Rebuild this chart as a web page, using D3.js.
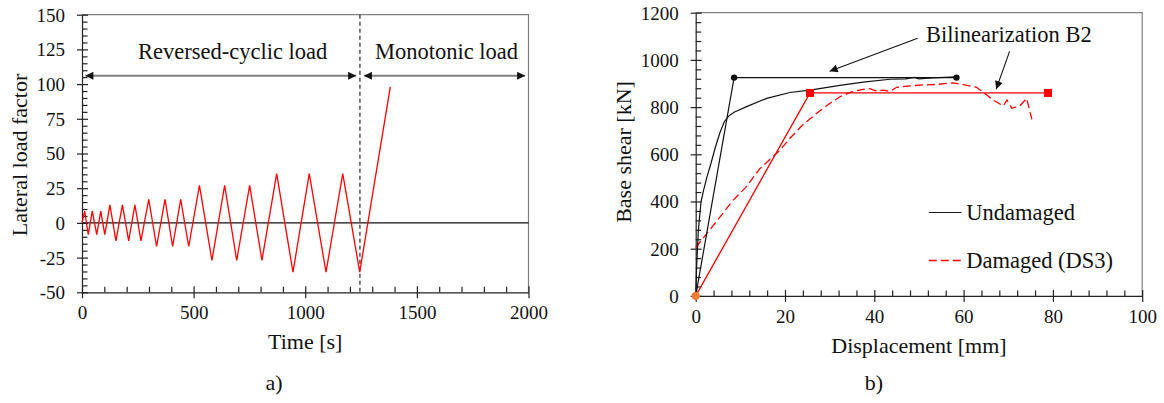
<!DOCTYPE html>
<html>
<head>
<meta charset="utf-8">
<script src="https://cdn.jsdelivr.net/npm/d3@7"></script>
<style>
  body { margin: 0; background: #fff; }
  svg { display: block; }
</style>
</head>
<body>
<div id="chart"></div>
<script>
// panel a) reversed-cyclic + monotonic load history
let cycTime = [0, 12, 28, 46, 66, 84, 102, 125, 152, 181, 209, 237, 264, 299, 334, 372, 406, 442, 478,
  526, 582, 639, 693, 751, 806, 872, 945, 1018, 1093, 1168, 1244, 1381];
let cycLoad = [0, 8.5, -8.5, 8.5, -8.5, 8.5, -8.5, 13, -13, 13, -13, 13, -13, 17, -17, 17, -17, 17, -17,
  27, -27, 27, -27, 27, -27, 35.5, -35.5, 35.5, -35.5, 35.5, -35.5, 98];
let switchTime = 1245;
let timeTicks = [0, 500, 1000, 1500, 2000];
let loadTicks = [-50, -25, 0, 25, 50, 75, 100, 125, 150];

// panel b) pushover curves
let undDisp = [0, 0.2, 0.6, 1.2, 1.8, 2.6, 3.4, 4.4, 5.4, 6.4, 7.4, 8.6, 11.4, 15.9, 21.1, 25.6, 32.3,
  37.5, 43.5, 47, 49, 50, 53, 58.4];
let undShear = [0, 120, 280, 400, 450, 510, 560, 630, 690, 738, 762, 778, 802, 837, 862, 872, 892,
  906, 918, 920, 926, 920, 924, 928];
let dmgDisp = [0, 4, 8.4, 11.2, 14.4, 18.9, 21.1, 24, 27.1, 30, 32.3, 35, 37.5, 39, 40.5, 42, 43.5,
  45, 48, 51, 54, 57.7, 60, 62.9, 65.2, 66.6, 68.9, 69.7, 70.8, 72.6, 74.1, 75.3];
let dmgShear = [205, 300, 406, 460, 540, 618, 668, 725, 774, 815, 844, 865, 875, 878, 868, 872, 866,
  884, 890, 894, 896, 903, 895, 884, 851, 830, 805, 830, 795, 805, 837, 748];
let bilUndDisp = [0, 8.6, 58.4];
let bilUndShear = [0, 925, 925];
let bilDmgDisp = [0, 25.6, 78.9];
let bilDmgShear = [0, 860, 860];
let dispTicks = [0, 20, 40, 60, 80, 100];
let shearTicks = [0, 200, 400, 600, 800, 1000, 1200];

let W = 1164, H = 403;
let FONT = "'Liberation Serif', 'Times New Roman', serif";
let RED = "#ff0000";

let svg = d3.select("#chart").append("svg")
  .attr("width", W).attr("height", H)
  .style("font-family", FONT);

svg.append("rect").attr("width", W).attr("height", H).attr("fill", "#fff");

let defs = svg.append("defs");
defs.append("marker")
  .attr("id", "headA")
  .attr("viewBox", "0 0 10 10")
  .attr("refX", 10).attr("refY", 5)
  .attr("markerWidth", 9).attr("markerHeight", 8)
  .attr("markerUnits", "userSpaceOnUse")
  .attr("orient", "auto-start-reverse")
  .append("path").attr("d", "M0,0L10,5L0,10Z").attr("fill", "#111");
defs.append("marker")
  .attr("id", "headB")
  .attr("viewBox", "0 0 10 10")
  .attr("refX", 10).attr("refY", 5)
  .attr("markerWidth", 11).attr("markerHeight", 8)
  .attr("markerUnits", "userSpaceOnUse")
  .attr("orient", "auto")
  .append("path").attr("d", "M0,0L10,5L0,10Z").attr("fill", "#111");

function minorsOf(majors, step) {
  let out = [];
  let lo = majors[0], hi = majors[majors.length - 1];
  for (let v = lo; v <= hi + 1e-9; v += step) {
    if (majors.indexOf(+v.toFixed(6)) < 0) out.push(+v.toFixed(6));
  }
  return out;
}

// frame, axes and ticks, Excel-like
function drawFrame(x, y, xMajor, xStep, yMajor, yStep) {
  let g = svg.append("g");
  let x0 = x.range()[0], x1 = x.range()[1];
  let y0 = y.range()[0], y1 = y.range()[1];

  g.append("path")
    .attr("d", "M" + x0 + "," + y1 + "H" + x1 + "V" + y0)
    .attr("fill", "none").attr("stroke", "#808080").attr("stroke-width", 1.2);

  let fmt = function(d) { return String(d); };

  let xMinor = g.append("g").attr("transform", "translate(0," + y0 + ")")
    .call(d3.axisBottom(x).tickValues(minorsOf(xMajor, xStep)).tickSize(-5.5).tickFormat(""));
  xMinor.select(".domain").remove();

  let xAx = g.append("g").attr("transform", "translate(0," + y0 + ")")
    .call(d3.axisBottom(x).tickValues(xMajor).tickSizeOuter(0).tickFormat(fmt));
  xAx.selectAll(".tick line").attr("y1", -6).attr("y2", 6);
  xAx.selectAll(".tick text").attr("y", 27).attr("dy", null)
    .style("font-size", "19px").style("font-family", FONT).attr("fill", "#111");

  let yMinor = g.append("g").attr("transform", "translate(" + x0 + ",0)")
    .call(d3.axisLeft(y).tickValues(minorsOf(yMajor, yStep)).tickSize(-5.5).tickFormat(""));
  yMinor.select(".domain").remove();

  let yAx = g.append("g").attr("transform", "translate(" + x0 + ",0)")
    .call(d3.axisLeft(y).tickValues(yMajor).tickSizeOuter(0).tickFormat(fmt));
  yAx.selectAll(".tick line").attr("x1", 6).attr("x2", -5);
  yAx.selectAll(".tick text").attr("x", -17).attr("dy", "0.34em")
    .style("font-size", "19px").style("font-family", FONT).attr("fill", "#111");

  g.selectAll(".domain, .tick line").attr("stroke", "#222").attr("stroke-width", 1.2);
  return g;
}

function label(txt, x, y, size, anchor, rotate) {
  let t = svg.append("text")
    .attr("font-size", size)
    .attr("fill", "#111")
    .attr("text-anchor", anchor || "start")
    .text(txt);
  if (rotate) {
    t.attr("transform", "translate(" + x + "," + y + ")rotate(-90)");
  }
  else {
    t.attr("x", x).attr("y", y);
  }
  return t;
}

// ---------- panel a ----------
let xA = d3.scaleLinear().domain([0, 2000]).range([82, 528.5]);
let yA = d3.scaleLinear().domain([-50, 150]).range([292.3, 14.7]);

drawFrame(xA, yA, timeTicks, 100, loadTicks, 5);

svg.append("line")
  .attr("x1", xA(0)).attr("x2", xA(2000))
  .attr("y1", yA(0)).attr("y2", yA(0))
  .attr("stroke", "#111").attr("stroke-width", 1.1);

svg.append("line")
  .attr("x1", xA(switchTime)).attr("x2", xA(switchTime))
  .attr("y1", yA(150)).attr("y2", yA(-50))
  .attr("stroke", "#111").attr("stroke-width", 1.1)
  .attr("stroke-dasharray", "4,3");

let cyc = cycTime.map(function(t, i) { return [t, cycLoad[i]]; });
svg.append("path")
  .datum(cyc)
  .attr("d", d3.line().x(function(d) { return xA(d[0]); }).y(function(d) { return yA(d[1]); }))
  .attr("fill", "none").attr("stroke", RED).attr("stroke-width", 1.3);

svg.append("line")
  .attr("x1", xA(15)).attr("x2", xA(1228))
  .attr("y1", yA(106)).attr("y2", yA(106))
  .attr("stroke", "#7f7f7f").attr("stroke-width", 2.2)
  .attr("marker-start", "url(#headA)").attr("marker-end", "url(#headA)");
svg.append("line")
  .attr("x1", xA(1263)).attr("x2", xA(1985))
  .attr("y1", yA(106)).attr("y2", yA(106))
  .attr("stroke", "#7f7f7f").attr("stroke-width", 2.2)
  .attr("marker-start", "url(#headA)").attr("marker-end", "url(#headA)");

label("Reversed-cyclic load", xA(251), yA(118), "22.5px");
label("Monotonic load", xA(1312), yA(118), "22.5px");

label("Lateral load factor", 27, 155, "22px", "middle", true);
label("Time [s]", xA(1000), 349, "22px", "middle");
label("a)", 274, 390, "22px", "middle");

// ---------- panel b ----------
let xB = d3.scaleLinear().domain([0, 100]).range([695.7, 1142.2]);
let yB = d3.scaleLinear().domain([0, 1200]).range([295.9, 12.7]);

drawFrame(xB, yB, dispTicks, 4, shearTicks, 40);

let lineB = d3.line().x(function(d) { return xB(d[0]); }).y(function(d) { return yB(d[1]); });
let zip = function(a, b) { return a.map(function(v, i) { return [v, b[i]]; }); };

svg.append("path").datum(zip(bilDmgDisp, bilDmgShear)).attr("d", lineB)
  .attr("fill", "none").attr("stroke", RED).attr("stroke-width", 1.3);
svg.append("path").datum(zip(dmgDisp, dmgShear)).attr("d", lineB)
  .attr("fill", "none").attr("stroke", RED).attr("stroke-width", 1.3)
  .attr("stroke-dasharray", "8,4");
svg.append("path").datum(zip(bilUndDisp, bilUndShear)).attr("d", lineB)
  .attr("fill", "none").attr("stroke", "#111").attr("stroke-width", 1.2);
svg.append("path").datum(zip(undDisp, undShear)).attr("d", lineB)
  .attr("fill", "none").attr("stroke", "#111").attr("stroke-width", 1.2);

svg.selectAll("rect.sq").data(zip(bilDmgDisp, bilDmgShear).slice(1)).enter()
  .append("rect").attr("class", "sq")
  .attr("x", function(d) { return xB(d[0]) - 4; })
  .attr("y", function(d) { return yB(d[1]) - 4; })
  .attr("width", 8).attr("height", 8).attr("fill", RED);
svg.selectAll("circle.dot").data(zip(bilUndDisp, bilUndShear).slice(1)).enter()
  .append("circle").attr("class", "dot")
  .attr("cx", function(d) { return xB(d[0]); })
  .attr("cy", function(d) { return yB(d[1]); })
  .attr("r", 3.2).attr("fill", "#111");
svg.append("circle")
  .attr("cx", xB(0)).attr("cy", yB(0)).attr("r", 4.2).attr("fill", "#ed7d31");

// annotation arrows
svg.append("line")
  .attr("x1", xB(49.7)).attr("y1", yB(1092))
  .attr("x2", xB(30.0)).attr("y2", yB(952))
  .attr("stroke", "#111").attr("stroke-width", 1.1)
  .attr("marker-end", "url(#headB)");
svg.append("line")
  .attr("x1", xB(70.3)).attr("y1", yB(1036))
  .attr("x2", xB(67.3)).attr("y2", yB(876))
  .attr("stroke", "#111").attr("stroke-width", 1.1)
  .attr("marker-end", "url(#headB)");
label("Bilinearization B2", xB(51.6), yB(1077), "22.5px");

// legend
svg.append("line")
  .attr("x1", xB(52.2)).attr("x2", xB(59.5))
  .attr("y1", 212.5).attr("y2", 212.5)
  .attr("stroke", "#111").attr("stroke-width", 1.2);
label("Undamaged", xB(60.6), 220, "22.5px");
svg.append("line")
  .attr("x1", xB(52.2)).attr("x2", xB(59.5))
  .attr("y1", 260.5).attr("y2", 260.5)
  .attr("stroke", RED).attr("stroke-width", 1.3)
  .attr("stroke-dasharray", "8,4");
label("Damaged (DS3)", xB(60.6), 268, "22.5px");

label("Base shear [kN]", 631, 152, "22px", "middle", true);
label("Displacement [mm]", xB(50), 353, "22px", "middle");
label("b)", 874, 390, "22px", "middle");
</script>
</body>
</html>
